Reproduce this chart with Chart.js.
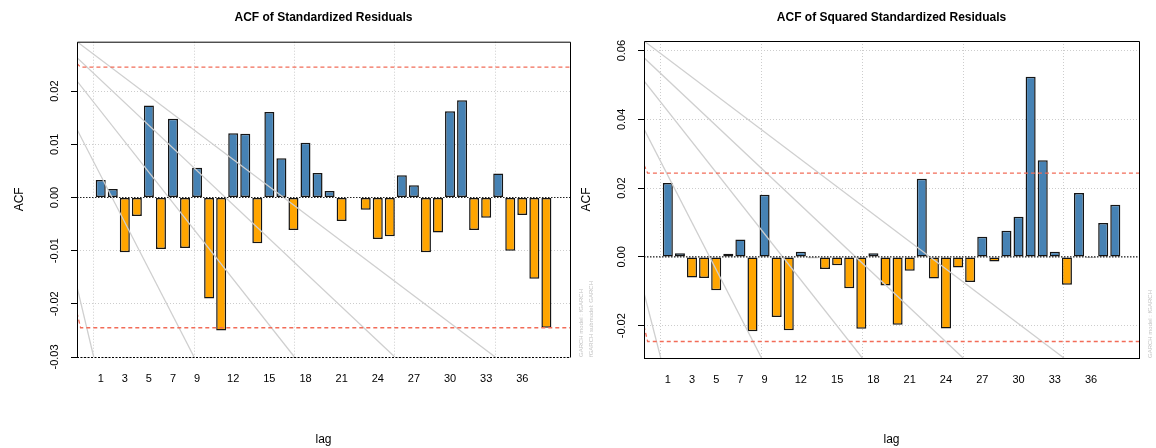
<!DOCTYPE html>
<html>
<head>
<meta charset="utf-8">
<title>ACF</title>
<script src="https://cdn.jsdelivr.net/npm/chart.js@4.4.0/dist/chart.umd.min.js"></script>
<style>
  body { margin: 0; background: #fff; width: 1156px; height: 448px; position: relative; overflow: hidden; }
  canvas { position: absolute; top: 0; }
  #chartLeft { left: 0; }
  #chartRight { left: 567px; }
</style>
</head>
<body>
<canvas id="chartLeft" width="600" height="448"></canvas>
<canvas id="chartRight" width="589" height="448"></canvas>
<script>
// Datos de los graficos

const lags = [1, 2, 3, 4, 5, 6, 7, 8, 9, 10, 11, 12, 13, 14, 15, 16, 17, 18, 19, 20,
  21, 22, 23, 24, 25, 26, 27, 28, 29, 30, 31, 32, 33, 34, 35, 36, 37, 38];

const acfResid = [0.0033, 0.0016, -0.0103, -0.0035, 0.0173, -0.0097, 0.0148, -0.0095, 0.0056, -0.019,
  -0.025, 0.0121, 0.012, -0.0086, 0.0161, 0.0074, -0.0061, 0.0103, 0.0046, 0.0012,
  -0.0044, 0.0001, -0.0023, -0.0078, -0.0073, 0.0042, 0.0023, -0.0103, -0.0066, 0.0162,
  0.0183, -0.0061, -0.0038, 0.0045, -0.01, -0.0033, -0.0153, -0.0245];

const acfSquared = [0.0215, 0.0011, -0.006, -0.0061, -0.0097, 0.0009, 0.0051, -0.0216, 0.0181, -0.0175,
  -0.0213, 0.0015, -0.0004, -0.0035, -0.0024, -0.0091, -0.0209, 0.0011, -0.0083, -0.0197,
  -0.004, 0.0227, -0.0063, -0.0208, -0.0031, -0.0073, 0.0059, -0.0013, 0.0076, 0.0117,
  0.0524, 0.0281, 0.0015, -0.0081, 0.0186, -0.0003, 0.0099, 0.0152];

const lagTickLabels = [1, 3, 5, 7, 9, 12, 15, 18, 21, 24, 27, 30, 33, 36];
const gridLags = [0.4167, 8.75, 17.083, 25.417, 33.75];
const lagRange = [-0.97, 39.96];

const residYTicks = [-0.03, -0.02, -0.01, 0, 0.01, 0.02];
const squaredYTicks = [-0.02, 0, 0.02, 0.04, 0.06];
const residRange = [-0.03, 0.0293];
const squaredRange = [-0.0294, 0.0628];

// bandas de confianza (valor al inicio del eje y valor de la banda)
const residBandStart = [0.0252, -0.0217];
const residBand = [0.0245, -0.0245];
const squaredBandStart = [0.0267, -0.0201];
const squaredBand = [0.0244, -0.0246];

// lineas grises diagonales: altura en el eje izquierdo y lag donde llegan abajo
const residFanStart = [0.0293, 0.0263, 0.0219, 0.0128, -0.0168];
const squaredFanStart = [0.0628, 0.0579, 0.0512, 0.0372, -0.0105];
const fanEndLags = [33.75, 25.417, 17.083, 8.75, 0.4167];

const footnotes = ["GARCH model : fGARCH", "fGARCH submodel: GARCH"];

const BLUE = "#4682b4";
const ORANGE = "#ffa500";
const FONT = "'Liberation Sans', Arial, Helvetica, sans-serif";

// Plugin para el estilo R: caja, etiquetas rotadas del eje y, notas al margen

const rStylePlugin = {
  id: "rStyle",
  afterDraw(chart, args, opts) {
    const ctx = chart.ctx;
    const area = chart.chartArea;
    const yScale = chart.scales.y;

    // caja
    ctx.save();
    ctx.strokeStyle = "#000";
    ctx.lineWidth = 1;
    ctx.beginPath();
    ctx.moveTo(area.left + 0.5, area.bottom);
    ctx.lineTo(area.left + 0.5, area.top + 0.5);
    ctx.lineTo(area.right + 0.5, area.top + 0.5);
    ctx.lineTo(area.right + 0.5, area.bottom);
    ctx.stroke();
    ctx.beginPath();
    if (opts.bottomDotted) ctx.setLineDash([2, 1.5]);
    ctx.moveTo(area.left, area.bottom + 0.5);
    ctx.lineTo(area.right + 1, area.bottom + 0.5);
    ctx.stroke();
    ctx.restore();

    // etiquetas del eje y
    ctx.save();
    ctx.fillStyle = "#000";
    ctx.font = "11px " + FONT;
    ctx.textAlign = "center";
    ctx.textBaseline = "middle";
    yScale.ticks.forEach((t) => {
      const py = yScale.getPixelForValue(t.value);
      ctx.save();
      ctx.translate(area.left - 22, py);
      ctx.rotate(-Math.PI / 2);
      ctx.fillText(t.value.toFixed(2), 0, 0);
      ctx.restore();
    });
    ctx.restore();

    // notas del modelo
    ctx.save();
    ctx.fillStyle = "#c4c4c4";
    ctx.font = "6px " + FONT;
    ctx.textAlign = "left";
    ctx.textBaseline = "middle";
    footnotes.forEach((txt, i) => {
      ctx.save();
      ctx.translate(area.right + 11 + i * 10.5, area.bottom);
      ctx.rotate(-Math.PI / 2);
      ctx.fillText(txt, 0, 0);
      ctx.restore();
    });
    ctx.restore();
  }
};

// Construye un grafico ACF

function makeChart(cfg) {
  const yMin = cfg.yRange[0];
  const datasets = [];

  datasets.push({
    type: "bar",
    data: lags.map((l, i) => ({ x: l, y: cfg.values[i] })),
    backgroundColor: (c) => (c.parsed && c.parsed.y >= 0 ? BLUE : ORANGE),
    borderColor: "#151515",
    borderWidth: 1.5,
    borderSkipped: false,
    barPercentage: 0.83,
    categoryPercentage: 1,
    order: 3
  });

  // lineas diagonales grises
  cfg.fanStart.forEach((v, i) => {
    datasets.push({
      type: "line",
      data: [{ x: lagRange[0], y: v }, { x: fanEndLags[i], y: yMin }],
      borderColor: "#cfcfcf",
      borderWidth: 1.3,
      pointRadius: 0,
      order: 2
    });
  });

  // bandas rojas
  cfg.band.forEach((b, i) => {
    datasets.push({
      type: "line",
      data: [
        { x: lagRange[0], y: cfg.bandStart[i] },
        { x: lagRange[0] + 0.3, y: b },
        { x: lagRange[1], y: b }
      ],
      borderColor: "#f26c58",
      borderWidth: 1.3,
      borderDash: [4, 3],
      pointRadius: 0,
      order: 1
    });
  });

  // linea del cero
  datasets.push({
    type: "line",
    data: [{ x: lagRange[0], y: 0 }, { x: lagRange[1], y: 0 }],
    borderColor: "#222",
    borderWidth: 1.2,
    borderDash: [1.5, 1.5],
    pointRadius: 0,
    order: 0
  });

  new Chart(document.getElementById(cfg.canvas), {
    type: "bar",
    data: { datasets },
    plugins: [rStylePlugin],
    options: {
      responsive: false,
      animation: false,
      events: [],
      layout: { padding: { left: 0, right: cfg.padRight, top: 0, bottom: 0 } },
      plugins: {
        legend: { display: false },
        tooltip: { enabled: false },
        title: {
          display: true,
          text: cfg.title,
          fullSize: false,
          color: "#000",
          font: { family: FONT, size: 12, weight: "bold" },
          padding: { top: 10, bottom: cfg.titleBottom }
        },
        rStyle: { bottomDotted: cfg.bottomDotted }
      },
      scales: {
        x: {
          type: "linear",
          position: "bottom",
          min: lagRange[0],
          max: lagRange[1],
          offset: false,
          afterBuildTicks: (a) => { a.ticks = lagTickLabels.map((v) => ({ value: v })); },
          ticks: {
            color: "#000",
            font: { family: FONT, size: 11 },
            padding: 15,
            maxRotation: 0,
            autoSkip: false,
            callback: (v) => String(v)
          },
          grid: { display: false, drawTicks: false },
          border: { display: false },
          title: {
            display: true,
            text: "lag",
            color: "#000",
            font: { family: FONT, size: 12 },
            padding: { top: 0, bottom: 1 }
          },
          afterFit: (a) => { a.height = cfg.xHeight; }
        },
        x2: {
          type: "linear",
          position: "bottom",
          min: lagRange[0],
          max: lagRange[1],
          offset: false,
          afterBuildTicks: (a) => { a.ticks = gridLags.map((v) => ({ value: v })); },
          ticks: { display: false },
          grid: { color: "#cdcdcd", lineWidth: 1, drawTicks: false, offset: false },
          border: { display: false, dash: [1, 2] },
          afterFit: (a) => { a.height = 0; }
        },
        y: {
          type: "linear",
          min: cfg.yRange[0],
          max: cfg.yRange[1],
          afterBuildTicks: (a) => { a.ticks = cfg.yTicks.map((v) => ({ value: v })); },
          ticks: { display: false },
          grid: {
            color: "#cdcdcd",
            lineWidth: 1,
            drawTicks: true,
            tickLength: 6,
            tickColor: "#000",
            tickWidth: 1
          },
          border: { display: false, dash: [1, 2] },
          title: {
            display: true,
            text: "ACF",
            color: "#000",
            font: { family: FONT, size: 12 },
            padding: { top: 12, bottom: 0 }
          },
          afterFit: (a) => { a.width = 77; }
        }
      }
    }
  });
}

makeChart({
  canvas: "chartLeft",
  title: "ACF of Standardized Residuals",
  values: acfResid,
  yRange: residRange,
  yTicks: residYTicks,
  band: residBand,
  bandStart: residBandStart,
  fanStart: residFanStart,
  padRight: 30,
  titleBottom: 17.3,
  xHeight: 91,
  bottomDotted: true
});

makeChart({
  canvas: "chartRight",
  title: "ACF of Squared Standardized Residuals",
  values: acfSquared,
  yRange: squaredRange,
  yTicks: squaredYTicks,
  band: squaredBand,
  bandStart: squaredBandStart,
  fanStart: squaredFanStart,
  padRight: 17,
  titleBottom: 16.6,
  xHeight: 90,
  bottomDotted: false
});
</script>
</body>
</html>
